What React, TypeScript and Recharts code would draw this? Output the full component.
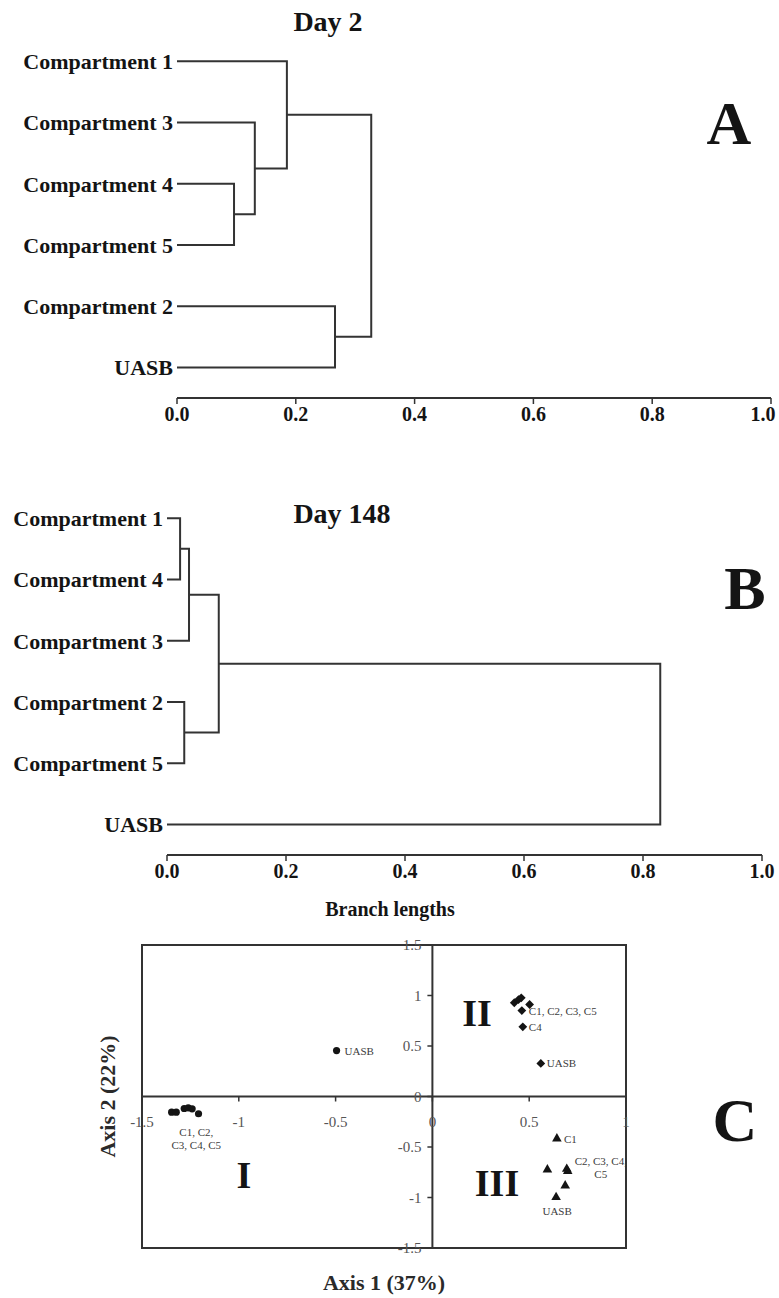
import React from 'react';
import { ScatterChart, Scatter, XAxis, YAxis, ReferenceLine, ReferenceArea, Label } from 'recharts';

const SERIF = '"Liberation Serif", "Times New Roman", serif';
const INK = '#141414';
const LINE = '#333';
const PAGE_W = 779;

// Panel A, day 2: leaf order top to bottom, then merges [node, node, branch length]
// leaves are nodes 0-5, each merge becomes the next node id
const day2Leaves = ['Compartment 1', 'Compartment 3', 'Compartment 4', 'Compartment 5', 'Compartment 2', 'UASB'];
const day2Merges = [
  [2, 3, 0.096],
  [1, 6, 0.131],
  [0, 7, 0.185],
  [4, 5, 0.266],
  [8, 9, 0.327],
];

// Panel B, day 148
const day148Leaves = ['Compartment 1', 'Compartment 4', 'Compartment 3', 'Compartment 2', 'Compartment 5', 'UASB'];
const day148Merges = [
  [0, 1, 0.022],
  [6, 2, 0.037],
  [3, 4, 0.029],
  [7, 8, 0.087],
  [9, 5, 0.829],
];

const branchTicks = [0, 0.2, 0.4, 0.6, 0.8, 1.0];

// Panel C, ordination scores (axis 1, axis 2)
const scoresI = [
  { x: -1.347, y: -0.155 },
  { x: -1.323, y: -0.155 },
  { x: -1.282, y: -0.119 },
  { x: -1.261, y: -0.112 },
  { x: -1.241, y: -0.122 },
  { x: -1.208, y: -0.171 },
  { x: -0.495, y: 0.455 },
];
const scoresII = [
  { x: 0.423, y: 0.928 },
  { x: 0.445, y: 0.96 },
  { x: 0.459, y: 0.977 },
  { x: 0.502, y: 0.911 },
  { x: 0.462, y: 0.851 },
  { x: 0.467, y: 0.69 },
  { x: 0.56, y: 0.327 },
];
const scoresIII = [
  { x: 0.643, y: -0.416 },
  { x: 0.594, y: -0.723 },
  { x: 0.694, y: -0.716 },
  { x: 0.699, y: -0.739 },
  { x: 0.686, y: -0.881 },
  { x: 0.639, y: -0.997 },
];
const axis1Ticks = [-1.5, -1, -0.5, 0, 0.5, 1];
const axis2Ticks = [-1.5, -1, -0.5, 0, 0.5, 1, 1.5];

// sample labels, attached to a point of each group (at = index), offsets in px
const notesI = [
  { at: 3, text: ['C1, C2,', 'C3, C4, C5'], dx: 8, dy: 24, anchor: 'middle' },
  { at: 6, text: ['UASB'], dx: 8, dy: 0, anchor: 'start' },
];
const notesII = [
  { at: 4, text: ['C1, C2, C3, C5'], dx: 7, dy: 0, anchor: 'start' },
  { at: 5, text: ['C4'], dx: 6, dy: 0, anchor: 'start' },
  { at: 6, text: ['UASB'], dx: 6, dy: 0, anchor: 'start' },
];
const notesIII = [
  { at: 0, text: ['C1'], dx: 7, dy: 0, anchor: 'start' },
  { at: 2, text: ['C2, C3, C4,', 'C5'], dx: 34, dy: -8, anchor: 'middle' },
  { at: 5, text: ['UASB'], dx: 1, dy: 14, anchor: 'middle' },
];

function buildBranches(leafCount: number, merges: number[][]) {
  const pos: number[] = [];
  const hgt: number[] = [];
  for (let i = 0; i < leafCount; i++) {
    pos.push(i);
    hgt.push(0);
  }
  return merges.map(([a, b, len]) => {
    const seg = [
      { x: hgt[a], y: pos[a] },
      { x: len, y: pos[a] },
      { x: len, y: pos[b] },
      { x: hgt[b], y: pos[b] },
    ];
    pos.push((pos[a] + pos[b]) / 2);
    hgt.push(len);
    return seg;
  });
}

const Hidden = () => <g />;

// keep the last label inside the page
const BranchTick = ({ x, y, payload }: any) => (
  <text
    x={Math.min(x, PAGE_W - 16)}
    y={y}
    dy="0.71em"
    textAnchor="middle"
    fill={INK}
    fontSize={20}
    fontWeight={700}
    fontFamily={SERIF}
  >
    {payload.value.toFixed(1)}
  </text>
);

function Dendrogram({ leaves, merges, top, marginTop, axisHeight, plotLeft, plotRight }: any) {
  const branches = buildBranches(leaves.length, merges);
  return (
    <div style={{ position: 'absolute', left: 0, top }}>
      <ScatterChart
        width={PAGE_W}
        height={440}
        margin={{ top: marginTop, right: PAGE_W - plotRight, bottom: 0, left: 0 }}
      >
        <XAxis
          type="number"
          dataKey="x"
          domain={[0, 1]}
          ticks={branchTicks}
          interval={0}
          height={axisHeight}
          axisLine={{ stroke: LINE, strokeWidth: 2 }}
          tickLine={{ stroke: LINE, strokeWidth: 1.5 }}
          tickSize={6}
          tickMargin={3}
          tick={BranchTick}
        />
        <YAxis
          type="number"
          dataKey="y"
          domain={[-0.2, 5.5]}
          reversed
          ticks={[0, 1, 2, 3, 4, 5]}
          interval={0}
          tickFormatter={(i: number) => leaves[i]}
          width={plotLeft}
          axisLine={false}
          tickLine={false}
          tickSize={0}
          tickMargin={4}
          tick={{ fill: INK, fontSize: 22, fontWeight: 700, fontFamily: SERIF }}
        />
        {branches.map((seg, i) => (
          <Scatter
            key={i}
            data={seg}
            line={{ stroke: LINE, strokeWidth: 2 }}
            shape={Hidden}
            isAnimationActive={false}
          />
        ))}
      </ScatterChart>
    </div>
  );
}

// panel C plot box
const C_LEFT = 142;
const C_RIGHT = 626;
const C_TOP = 15;
const C_AXIS_H = 50;
const C_HEIGHT = 368;
const C_PLOT_W = C_RIGHT - C_LEFT;
const C_PLOT_H = C_HEIGHT - C_TOP - C_AXIS_H;
const X_DOMAIN = [-1.5, 1];
const Y_DOMAIN = [-1.5, 1.5];
const originUp = (C_PLOT_H * (0 - Y_DOMAIN[0])) / (Y_DOMAIN[1] - Y_DOMAIN[0]);
const originRight = (C_PLOT_W * (0 - X_DOMAIN[0])) / (X_DOMAIN[1] - X_DOMAIN[0]);

const tickText = { fontSize: 15, fill: '#555', fontFamily: SERIF };

// ticks drawn on the axes through the origin
const Axis1Tick = ({ x, y, payload }: any) => {
  const oy = y - originUp;
  return (
    <g>
      <line x1={x} x2={x} y1={oy} y2={oy + 5} stroke={LINE} strokeWidth={1.5} />
      <text x={x} y={oy + 25} textAnchor="middle" dominantBaseline="central" {...tickText}>
        {payload.value}
      </text>
    </g>
  );
};

const Axis2Tick = ({ x, y, payload }: any) => {
  const ox = x + originRight;
  return (
    <g>
      <line x1={ox - 5} x2={ox} y1={y} y2={y} stroke={LINE} strokeWidth={1.5} />
      <text x={ox - 11} y={y} textAnchor="end" dominantBaseline="central" {...tickText}>
        {payload.value}
      </text>
    </g>
  );
};

const DotShape = ({ cx, cy }: any) => <circle cx={cx} cy={cy} r={3.6} fill={INK} />;
const DiamondShape = ({ cx, cy }: any) => (
  <polygon points={`${cx},${cy - 4.4} ${cx + 4.4},${cy} ${cx},${cy + 4.4} ${cx - 4.4},${cy}`} fill={INK} />
);
const TriangleShape = ({ cx, cy }: any) => (
  <polygon points={`${cx},${cy - 5.4} ${cx + 4.8},${cy + 2.9} ${cx - 4.8},${cy + 2.9}`} fill={INK} />
);

const NoteShape = ({ cx, cy, payload }: any) => {
  const n = payload.note;
  return (
    <text
      x={cx + n.dx}
      y={cy + n.dy}
      textAnchor={n.anchor}
      dominantBaseline="central"
      fontSize={11}
      fill="#3c3c3c"
      fontFamily={SERIF}
    >
      {n.text.map((t: string, i: number) => (
        <tspan key={i} x={cx + n.dx} dy={i === 0 ? 0 : 13}>
          {t}
        </tspan>
      ))}
    </text>
  );
};

const attach = (scores: any[], notes: any[]) => notes.map((n) => ({ ...scores[n.at], note: n }));

function Ordination() {
  return (
    <div style={{ position: 'absolute', left: 0, top: 930 }}>
      <ScatterChart
        width={PAGE_W}
        height={C_HEIGHT}
        margin={{ top: C_TOP, right: PAGE_W - C_RIGHT, bottom: 0, left: 0 }}
      >
        <XAxis
          type="number"
          dataKey="x"
          domain={X_DOMAIN}
          ticks={axis1Ticks}
          interval={0}
          height={C_AXIS_H}
          axisLine={false}
          tickLine={false}
          tickSize={0}
          tickMargin={0}
          tick={Axis1Tick}
        >
          <Label
            value="Axis 1 (37%)"
            position="insideBottom"
            offset={8}
            fontSize={22}
            fontWeight={700}
            fill="#2a2a2a"
            fontFamily={SERIF}
          />
        </XAxis>
        <YAxis
          type="number"
          dataKey="y"
          domain={Y_DOMAIN}
          ticks={axis2Ticks}
          interval={0}
          width={C_LEFT}
          axisLine={false}
          tickLine={false}
          tickSize={0}
          tickMargin={0}
          tick={Axis2Tick}
        >
          <Label
            value="Axis 2 (22%)"
            angle={-90}
            position="insideLeft"
            offset={107}
            textAnchor="middle"
            style={{ textAnchor: 'middle' }}
            fontSize={22}
            fontWeight={700}
            fill="#2a2a2a"
            fontFamily={SERIF}
          />
        </YAxis>
        <ReferenceArea
          x1={X_DOMAIN[0]}
          x2={X_DOMAIN[1]}
          y1={Y_DOMAIN[0]}
          y2={Y_DOMAIN[1]}
          fill="none"
          stroke={LINE}
          strokeWidth={2}
        />
        <ReferenceLine x={0} stroke={LINE} strokeWidth={2} />
        <ReferenceLine y={0} stroke={LINE} strokeWidth={2} />
        <Scatter data={scoresI} shape={DotShape} isAnimationActive={false} />
        <Scatter data={scoresII} shape={DiamondShape} isAnimationActive={false} />
        <Scatter data={scoresIII} shape={TriangleShape} isAnimationActive={false} />
        <Scatter data={attach(scoresI, notesI)} shape={NoteShape} isAnimationActive={false} />
        <Scatter data={attach(scoresII, notesII)} shape={NoteShape} isAnimationActive={false} />
        <Scatter data={attach(scoresIII, notesIII)} shape={NoteShape} isAnimationActive={false} />
      </ScatterChart>
    </div>
  );
}

const Text = ({ x, y, size, children }: any) => (
  <div
    style={{
      position: 'absolute',
      left: x,
      top: y,
      transform: 'translate(-50%, -50%)',
      fontFamily: SERIF,
      fontWeight: 700,
      fontSize: size,
      lineHeight: 1,
      whiteSpace: 'nowrap',
      color: INK,
    }}
  >
    {children}
  </div>
);

export default function App() {
  return (
    <div
      style={{
        position: 'absolute',
        left: 0,
        top: 0,
        width: PAGE_W,
        height: 1298,
        overflow: 'hidden',
        background: '#fff',
      }}
    >
      <Dendrogram
        leaves={day2Leaves}
        merges={day2Merges}
        top={0}
        marginTop={49}
        axisHeight={42}
        plotLeft={177}
        plotRight={771}
      />
      <Dendrogram
        leaves={day148Leaves}
        merges={day148Merges}
        top={460}
        marginTop={46}
        axisHeight={45}
        plotLeft={167}
        plotRight={762}
      />
      <Ordination />

      <Text x={328} y={22} size={28}>Day 2</Text>
      <Text x={342} y={514} size={28}>Day 148</Text>
      <Text x={729} y={123} size={62}>A</Text>
      <Text x={745} y={588} size={62}>B</Text>
      <Text x={735} y={1120} size={62}>C</Text>
      <Text x={390} y={909} size={20}>Branch lengths</Text>
      <Text x={244} y={1175} size={38}>I</Text>
      <Text x={477} y={1013} size={38}>II</Text>
      <Text x={497} y={1183} size={38}>III</Text>
    </div>
  );
}
